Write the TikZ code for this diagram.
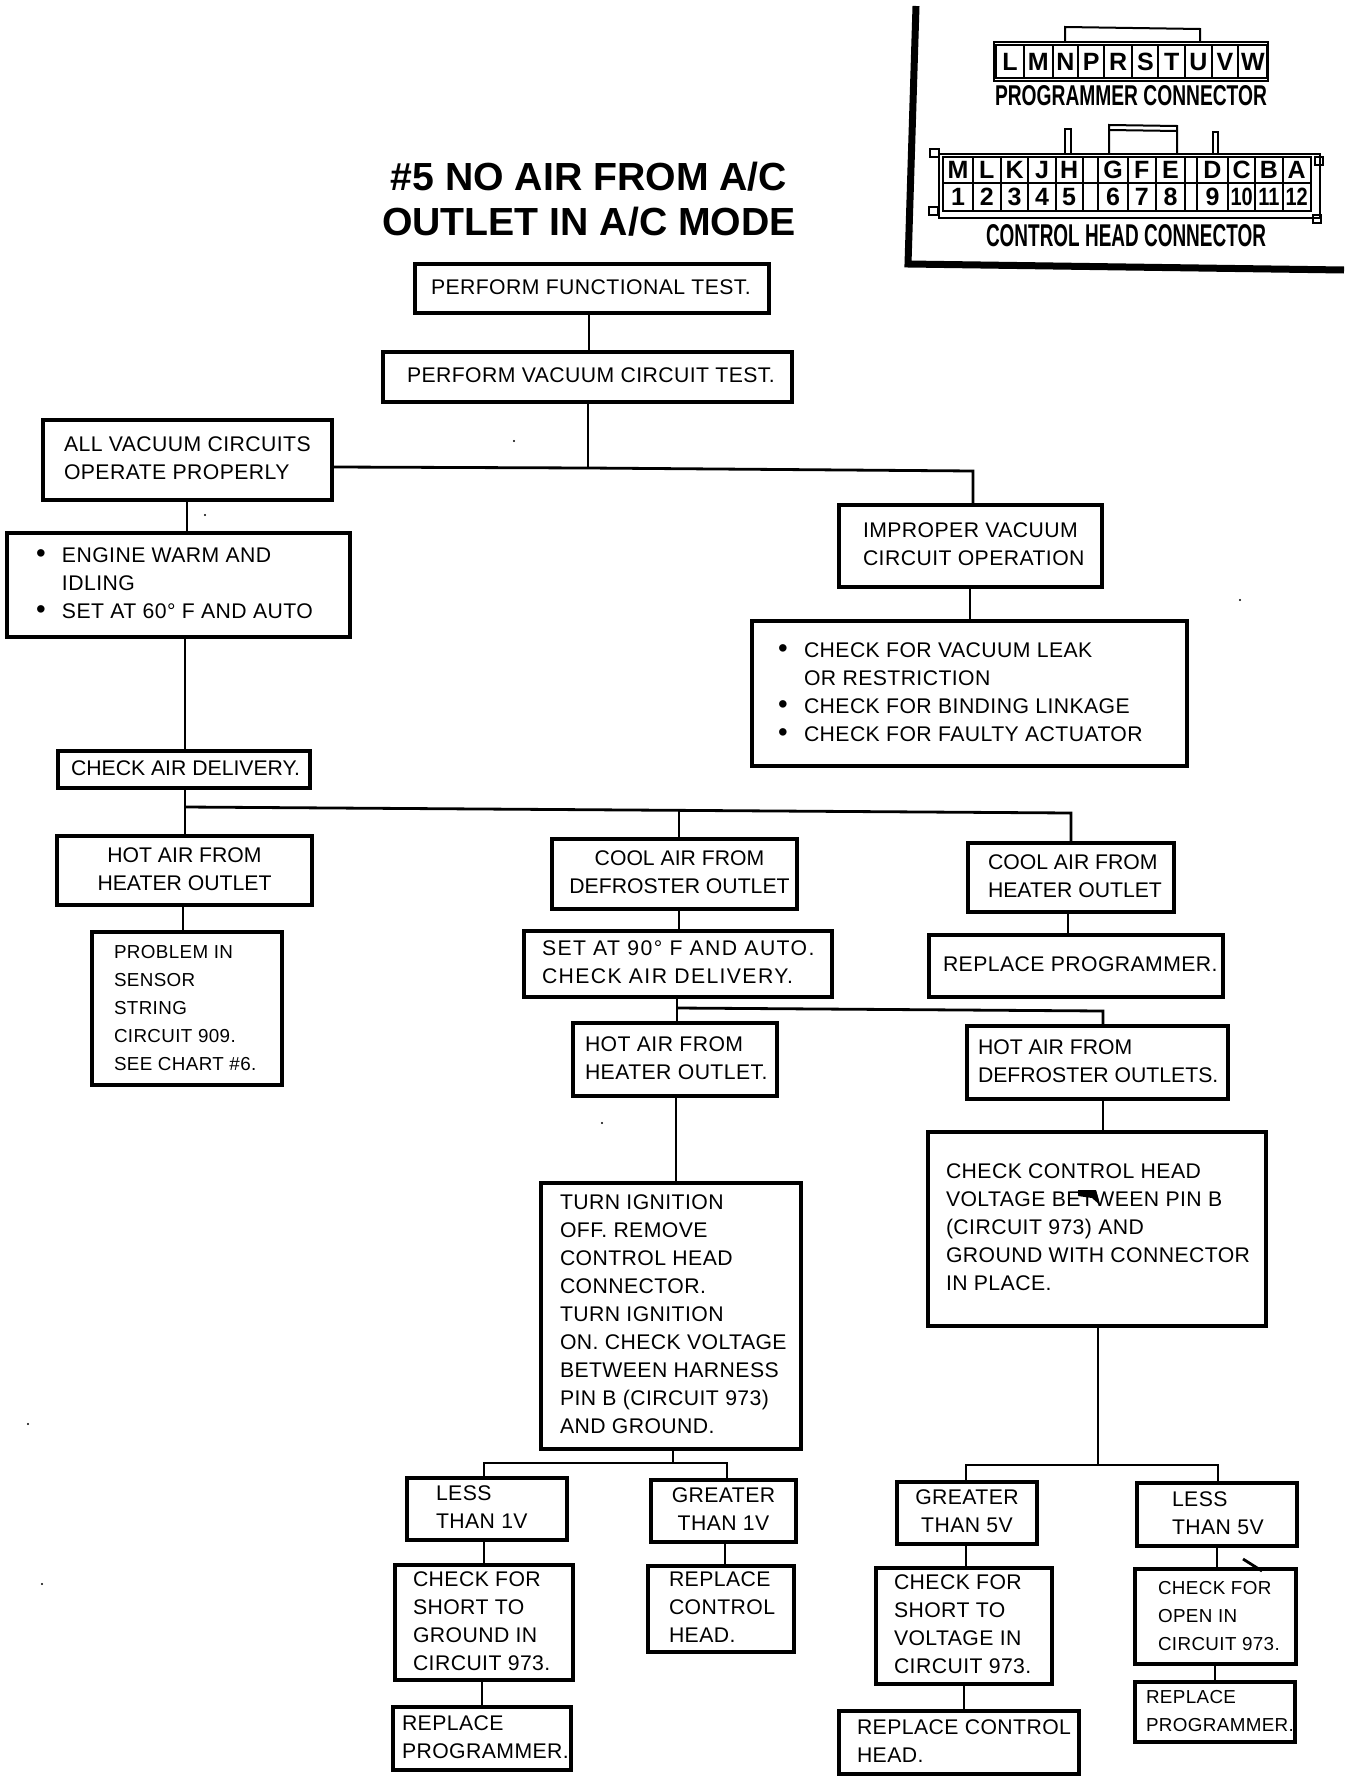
\documentclass[tikz,border=0pt]{standalone}
\usepackage{fontspec}
\setmainfont{Liberation Sans}
\newfontfamily\bodyf[LetterSpace=2]{Liberation Sans}
\newfontfamily\tightf[LetterSpace=0]{Liberation Sans}
\newfontfamily\loosef[LetterSpace=6.5]{Liberation Sans}
\newcommand\bx[7]{%
  \pgfmathsetlengthmacro\bw{(#4-#2)*0.5}\pgfmathsetlengthmacro\bh{(#5-#3)*0.5}%
  \node[box,minimum width=\bw,minimum height=\bh,#6] (#1) at ({(#2+#4)/2},{(#3+#5)/2}) {#7};}
\newcommand\LT[2]{\makebox[\bw][l]{\hspace*{\dimexpr #1pt*1/2\relax}\begin{tabular}[c]{@{}l@{}}#2\end{tabular}}}
\newcommand\CT[1]{\makebox[\bw][c]{\begin{tabular}[c]{@{}c@{}}#1\end{tabular}}}
\newcommand\CTs[2]{\makebox[\bw][c]{\hspace*{#1pt}\begin{tabular}[c]{@{}c@{}}#2\end{tabular}}}
\newcommand\Bu{\makebox[13pt][l]{\scalebox{1.3}{•}}}
% connector cell, coordinates as 3x offsets from (900,0)
\newcommand\cel[6]{%
  \pgfmathsetlengthmacro\bw{(#3-#2)/6}\pgfmathsetlengthmacro\bh{(#5-#4)/6}%
  \node[cellbox,minimum width=\bw,minimum height=\bh] (#1) at ({900+(#2+#3)/6},{(#4+#5)/6}) {#6};}
\tikzset{
  box/.style={draw,line width=1.6pt,inner sep=0pt,font=\bodyf\fontsize{10.6}{14}\selectfont},
  small/.style={font=\bodyf\fontsize{9.4}{14}\selectfont},
  tight/.style={font=\tightf\fontsize{10.6}{14}\selectfont},
  loose/.style={font=\loosef\fontsize{10.6}{14}\selectfont},
  conn/.style={line width=1.4pt},
  cellbox/.style={draw,line width=.9pt,inner sep=0pt,font=\bfseries\fontsize{12.5}{13}\selectfont},
  outline/.style={line width=1pt},
  heavy/.style={line width=3.5pt},
  speck/.style={fill=black,draw=none}
}
\begin{document}
\begin{tikzpicture}[x=0.5pt,y=-0.5pt]
\useasboundingbox (0,0) rectangle (1360,1782);

% reference panel
\draw[heavy] (916,6) -- (908,264) -- (1344,270);
\node[inner sep=0pt] (proglabel) at (1131,96) {\resizebox{136pt}{10pt}{\bfseries PROGRAMMER CONNECTOR}};
\node[inner sep=0pt] (ctrllabel) at (1126,236) {\resizebox{140pt}{11pt}{\bfseries CONTROL HEAD CONNECTOR}};
\draw[outline] (1065,43) -- (1065,27) -- (1200,29) -- (1200,43);
\draw[outline] (994,42) rectangle (1268,81);
\foreach \n/\a/\b/\t in {pL/288/372/L,pM/372/458/M,pN/458/535/N,pP/535/612/P,pR/612/697/R,pS/697/775/S,pT/775/855/T,pU/855/935/U,pV/935/1015/V,pW/1015/1102/W}
  {\cel{\n}{\a}{\b}{135}{235}{\t}}
\draw[outline] (939,154) rectangle (1320,218);
\draw[outline] (930,149) rectangle (939,157);
\draw[outline] (929,207) rectangle (938,215);
\draw[outline] (1315,157) rectangle (1323,165);
\draw[outline] (1313,215) rectangle (1321,223);
\draw[outline] (1065,154) -- (1065,129) -- (1071,129) -- (1071,154);
\draw[outline] (1109,154) -- (1109,125) -- (1177,126) -- (1177,154);
\draw[outline] (1109,130) -- (1177,131);
\draw[outline] (1213,154) -- (1213,132) -- (1218,132) -- (1218,154);
\foreach \n/\a/\b/\t in {cM/130/218/M,cL/218/303/L,cK/303/385/K,cJ/385/467/J,cH/467/548/H,cG/595/683/G,cF/683/768/F,cE/768/855/E,cD/890/985/D,cC/985/1065/C,cB/1065/1148/B,cA/1148/1232/A}
  {\cel{\n}{\a}{\b}{472}{550}{\t}}
\foreach \n/\a/\b/\t in {n1/130/218/1,n2/218/303/2,n3/303/385/3,n4/385/467/4,n5/467/548/5,n6/595/683/6,n7/683/768/7,n8/768/855/8,n9/890/985/9,n10/985/1065/{\scalebox{.8}[1]{10}},n11/1065/1148/{\scalebox{.8}[1]{11}},n12/1148/1232/{\scalebox{.8}[1]{12}}}
  {\cel{\n}{\a}{\b}{550}{632}{\t}}
\draw[outline] (1083,157) -- (1098,157) (1083,183) -- (1098,183) (1083,211) -- (1098,211);
\draw[outline] (1185,157) -- (1197,157) (1185,183) -- (1197,183) (1185,211) -- (1197,211);

% title
\node[align=center,inner sep=0pt,font=\bfseries\fontsize{19.6}{22.5}\selectfont] (title) at (589,199) {\#5 NO AIR FROM A/C\\OUTLET IN A/C MODE};

% boxes
\bx{func}{415}{264}{769}{313}{}{\LT{16}{PERFORM FUNCTIONAL TEST.}}
\bx{vac}{383}{352}{792}{402}{}{\LT{24}{PERFORM VACUUM CIRCUIT TEST.}}
\bx{all}{43}{420}{332}{500}{}{\raisebox{1pt}{\LT{21}{ALL VACUUM CIRCUITS\\OPERATE PROPERLY}}}
\bx{eng}{7}{533}{350}{637}{}{\LT{29}{\Bu ENGINE WARM AND\\\hspace*{13pt}IDLING\\\Bu SET AT 60° F AND AUTO}}
\bx{chk}{58}{751}{310}{788}{tight}{\LT{13}{CHECK AIR DELIVERY.}}
\bx{hot1}{57}{836}{312}{905}{tight}{\CT{HOT AIR FROM\\HEATER OUTLET}}
\bx{prob}{92}{932}{282}{1085}{small}{\LT{22}{PROBLEM IN\\SENSOR\\STRING\\CIRCUIT 909.\\SEE CHART \#6.}}
\bx{imp}{839}{505}{1102}{587}{}{\raisebox{1.5pt}{\LT{24}{IMPROPER VACUUM\\CIRCUIT OPERATION}}}
\bx{chkv}{752}{621}{1187}{766}{}{\raisebox{.5pt}{\LT{26}{\Bu CHECK FOR VACUUM LEAK\\\hspace*{13pt}OR RESTRICTION\\\Bu CHECK FOR BINDING LINKAGE\\\Bu CHECK FOR FAULTY ACTUATOR}}}
\bx{cool1}{552}{839}{797}{909}{tight}{\CTs{5}{COOL AIR FROM\\DEFROSTER OUTLET}}
\bx{cool2}{968}{843}{1174}{912}{tight}{\LT{20}{COOL AIR FROM\\HEATER OUTLET}}
\bx{setn}{524}{931}{832}{997}{loose}{\LT{18}{SET AT 90° F AND AUTO.\\CHECK AIR DELIVERY.}}
\bx{repl}{929}{935}{1223}{997}{}{\LT{14}{REPLACE PROGRAMMER.}}
\bx{hot2}{573}{1023}{777}{1096}{}{\LT{12}{HOT AIR FROM\\HEATER OUTLET.}}
\bx{hot3}{967}{1026}{1228}{1099}{tight}{\LT{11}{HOT AIR FROM\\DEFROSTER OUTLETS.}}
\bx{ckh}{928}{1132}{1266}{1326}{}{\LT{18}{CHECK CONTROL HEAD\\VOLTAGE BETWEEN PIN B\\(CIRCUIT 973) AND\\GROUND WITH CONNECTOR\\IN PLACE.}}
\bx{turn}{541}{1183}{801}{1449}{}{\raisebox{1.25pt}{\LT{19}{TURN IGNITION\\OFF. REMOVE\\CONTROL HEAD\\CONNECTOR.\\TURN IGNITION\\ON. CHECK VOLTAGE\\BETWEEN HARNESS\\PIN B (CIRCUIT 973)\\AND GROUND.}}}
\bx{lessa}{407}{1478}{567}{1540}{}{\LT{29}{LESS\\THAN 1V}}
\bx{gra}{651}{1480}{796}{1542}{}{\CT{GREATER\\THAN 1V}}
\bx{grb}{897}{1482}{1037}{1544}{}{\CT{GREATER\\THAN 5V}}
\bx{lessb}{1137}{1483}{1297}{1546}{}{\LT{35}{LESS\\THAN 5V}}
\bx{chks}{395}{1565}{573}{1680}{}{\LT{18}{CHECK FOR\\SHORT TO\\GROUND IN\\CIRCUIT 973.}}
\bx{repc}{648}{1566}{794}{1652}{}{\LT{21}{REPLACE\\CONTROL\\HEAD.}}
\bx{chkt}{876}{1568}{1052}{1684}{}{\LT{18}{CHECK FOR\\SHORT TO\\VOLTAGE IN\\CIRCUIT 973.}}
\bx{open}{1135}{1569}{1296}{1664}{small}{\LT{23}{CHECK FOR\\OPEN IN\\CIRCUIT 973.}}
\bx{rpa}{393}{1707}{571}{1770}{}{\LT{9}{REPLACE\\PROGRAMMER.}}
\bx{rpb}{839}{1711}{1079}{1774}{}{\LT{18}{REPLACE CONTROL\\HEAD.}}
\bx{rpc}{1135}{1682}{1295}{1742}{small}{\LT{11}{REPLACE\\PROGRAMMER.}}

% junction coordinates
\coordinate (ja) at (588,468);
\coordinate (jb) at (185,807);
\coordinate (jbm) at (679,810);
\coordinate (jbr) at (1071,813);
\coordinate (jc) at (677,1008);
\coordinate (jcr) at (1103,1011);
\coordinate (jd) at (673,1463);
\coordinate (je) at (1098,1465);

% connectors
\draw[conn] (func.south -| 589,0) -- (vac.north -| 589,0);
\draw[conn] (vac.south -| ja) -- (ja);
\draw[conn] (all.east |- 0,467) -- (ja) -- (973,471) -- (imp.north -| 973,0);
\draw[conn] (imp.south -| 970,0) -- (chkv.north -| 970,0);
\draw[conn] (all.south -| 187,0) -- (eng.north -| 187,0);
\draw[conn] (eng.south -| jb) -- (chk.north -| jb);
\draw[conn] (chk.south -| jb) -- (hot1.north -| jb);
\draw[conn] (jb) -- (jbr) -- (cool2.north -| jbr);
\draw[conn] (jbm) -- (cool1.north -| jbm);
\draw[conn] (hot1.south -| 183,0) -- (prob.north -| 183,0);
\draw[conn] (cool1.south -| 679,0) -- (setn.north -| 679,0);
\draw[conn] (cool2.south -| 1068,0) -- (repl.north -| 1068,0);
\draw[conn] (setn.south -| jc) -- (hot2.north -| jc);
\draw[conn] (jc) -- (jcr) -- (hot3.north -| jcr);
\draw[conn] (hot2.south -| 676,0) -- (turn.north -| 676,0);
\draw[conn] (hot3.south -| 1103,0) -- (ckh.north -| 1103,0);
\draw[conn] (turn.south -| jd) -- (jd);
\draw[conn] (lessa.north -| 484,0) -- (jd -| 484,0) -- (jd -| 727,0) -- (gra.north -| 727,0);
\draw[conn] (ckh.south -| je) -- (je);
\draw[conn] (grb.north -| 966,0) -- (je -| 966,0) -- (je -| 1218,0) -- (lessb.north -| 1218,0);
\draw[conn] (lessa.south -| 484,0) -- (chks.north -| 484,0);
\draw[conn] (chks.south -| 482,0) -- (rpa.north -| 482,0);
\draw[conn] (gra.south -| 725,0) -- (repc.north -| 725,0);
\draw[conn] (grb.south -| 966,0) -- (chkt.north -| 966,0);
\draw[conn] (chkt.south -| 964,0) -- (rpb.north -| 964,0);
\draw[conn] (lessb.south -| 1217,0) -- (open.north -| 1217,0);
\draw[conn] (open.south -| 1215,0) -- (rpc.north -| 1215,0);

% print marks
\fill[speck] (1078,1190) -- (1096,1190) -- (1100,1205) -- (1092,1198) -- (1078,1196) -- cycle;
\draw[conn] (1243,1559) -- (1262,1571);
\fill[speck] (514,441) circle (1.2);
\fill[speck] (205,515) circle (1.2);
\fill[speck] (28,1424) circle (1.2);
\fill[speck] (42,1584) circle (1.2);
\fill[speck] (602,1123) circle (1.2);
\fill[speck] (1240,600) circle (1.2);
\end{tikzpicture}
\end{document}
